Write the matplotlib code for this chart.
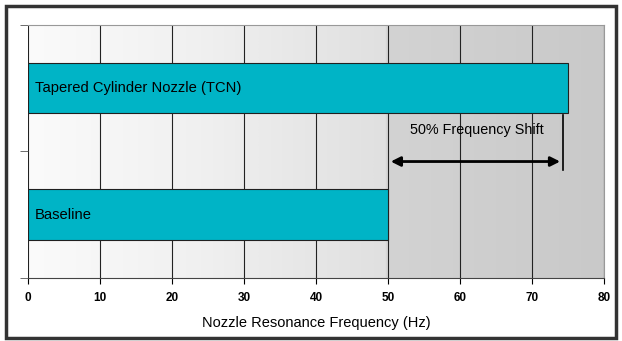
import numpy as np
import matplotlib
matplotlib.use("Agg")
import matplotlib.pyplot as plt
from matplotlib.patches import Rectangle
from matplotlib.colors import LinearSegmentedColormap

plt.rcParams["font.family"] = ["Liberation Sans", "DejaVu Sans"]

# Resonance frequency of each nozzle (Hz)
nozzles = ["Baseline", "Tapered Cylinder Nozzle (TCN)"]
freqs = [50, 75]
shift_label = "50% Frequency Shift"
x_ticks = [0, 10, 20, 30, 40, 50, 60, 70, 80]

fig = plt.figure(figsize=(6.22, 3.41), dpi=100)
ax = fig.add_axes([0.045, 0.185, 0.926, 0.742])

# grey background, light on the left, darker past 50 Hz
bg = LinearSegmentedColormap.from_list(
    "bg", [(0.0, "#fbfbfb"), (0.3, "#f0f0f0"), (0.62, "#e0e0e0"),
           (0.625, "#d3d3d3"), (1.0, "#c9c9c9")])
grad = np.linspace(0, 1, 512).reshape(1, -1)
ax.imshow(grad, cmap=bg, extent=[0, 80, -0.5, 1.5], aspect="auto", zorder=0)

ypos = np.arange(len(nozzles))
ax.barh(ypos, freqs, height=0.4, color="#00b4c6", edgecolor="#202020",
        linewidth=0.8, zorder=3)
for y, name in zip(ypos, nozzles):
    ax.text(1.0, y, name, va="center", ha="left", fontsize=10.6, zorder=4)

ax.set_xlim(0, 80)
ax.set_ylim(-0.5, 1.5)
ax.set_xticks(x_ticks)
ax.set_xticklabels([str(t) for t in x_ticks], fontsize=8.5, fontweight="bold")
ax.set_yticks([-0.5, 0.5, 1.5])
ax.set_yticklabels([])
ax.tick_params(axis="y", length=6, width=0.6, color="#555555")
ax.tick_params(axis="x", length=4, width=0.8, pad=6)
ax.grid(axis="x", color="#222222", linewidth=0.8, zorder=1)
ax.set_axisbelow(True)
ax.set_xlabel("Nozzle Resonance Frequency (Hz)", fontsize=10.5, labelpad=9)

for side in ["top", "right"]:
    ax.spines[side].set_color("#999999")
    ax.spines[side].set_linewidth(0.8)
ax.spines["left"].set_visible(False)
ax.spines["bottom"].set_color("#444444")

# frequency shift arrow between the two bar ends
ax.plot([74.3, 74.3], [0.79, 0.35], color="black", linewidth=1.2, zorder=4)
ax.annotate("", xy=(74.3, 0.42), xytext=(50, 0.42),
            arrowprops=dict(arrowstyle="<|-|>", color="black", lw=2,
                            mutation_scale=14), zorder=5)
ax.text(62.3, 0.67, shift_label, ha="center", va="center", fontsize=10.4, zorder=4)

# dark frame round the whole figure
fig.patches.append(Rectangle((0.009, 0.01), 0.982, 0.972, transform=fig.transFigure,
                             fill=False, edgecolor="#333333", linewidth=2.5))

fig.savefig("out.png", dpi=100)
